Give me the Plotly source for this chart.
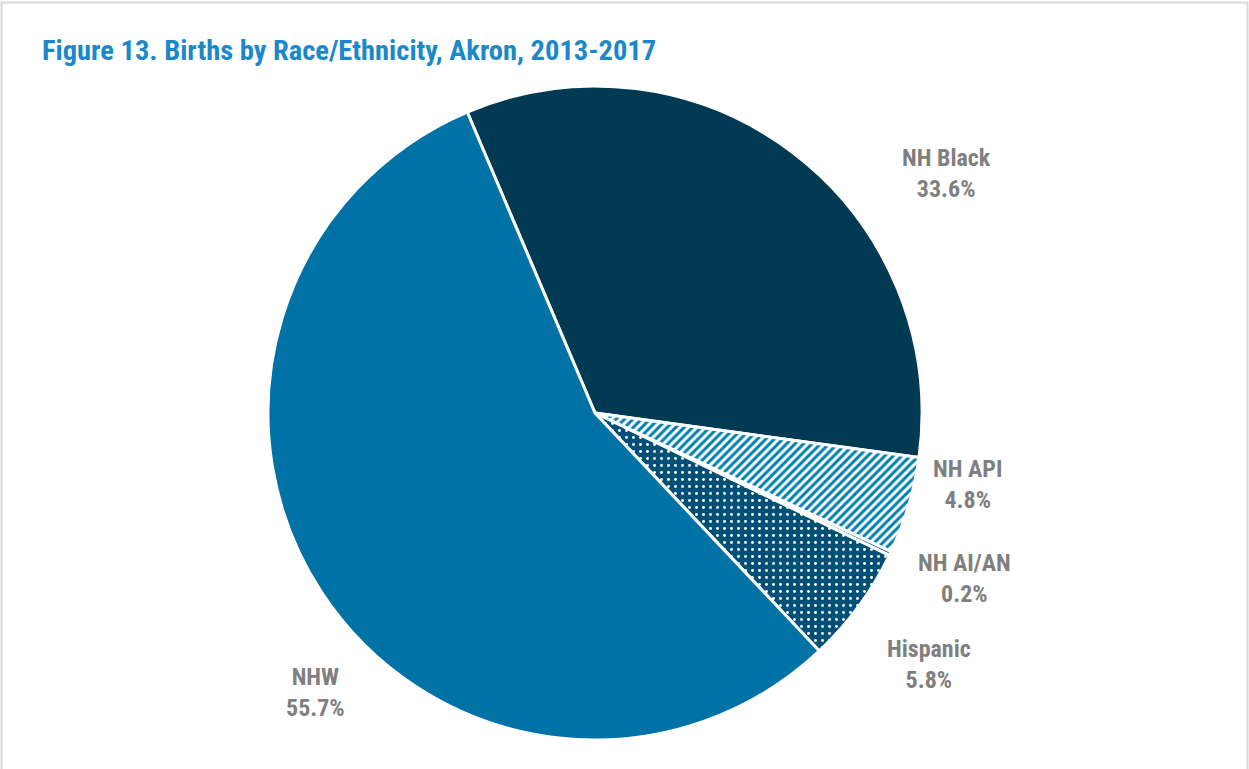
import plotly.graph_objects as go

categories = ["NH Black", "NH API", "NH AI/AN", "Hispanic", "NHW"]
shares = [33.6, 4.8, 0.2, 5.8, 55.7]

colors = ["#023a54", "#ffffff", "#0a6d99", "#004f76", "#0072a6"]
pattern_shapes = ["", "/", "", ".", ""]
pattern_fg = ["#023a54", "#0080b2", "#0a6d99", "#ffffff", "#0072a6"]
pattern_bg = ["#023a54", "#ffffff", "#0a6d99", "#004f76", "#0072a6"]

# label centres in pixels (x, y from top)
label_pos = [(946, 173), (967, 484), (964, 578), (929, 664), (315, 692)]

W, H = 1249, 769
cx, cy, R = 595, 413, 327

fig = go.Figure()
fig.add_trace(go.Pie(
    labels=categories,
    values=shares,
    sort=False,
    direction="clockwise",
    rotation=-23,
    textinfo="none",
    hoverinfo="label+percent",
    marker=dict(
        colors=colors,
        line=dict(color="#ffffff", width=3),
        pattern=dict(shape=pattern_shapes, fgcolor=pattern_fg, bgcolor=pattern_bg,
                     size=[6, 6, 6, 7, 6], solidity=[0.5, 0.5, 0.5, 0.14, 0.5],
                     fillmode="replace"),
    ),
    domain=dict(x=[(cx - R) / W, (cx + R) / W], y=[1 - (cy + R) / H, 1 - (cy - R) / H]),
    showlegend=False,
))

font_lbl = "Liberation Sans Narrow, Arial Narrow, Roboto Condensed, sans-serif"
annotations = []
for cat, v, (px, py) in zip(categories, shares, label_pos):
    annotations.append(dict(
        x=px / W, y=1 - py / H, xref="paper", yref="paper",
        text=f"<b>{cat}<br>{v:.1f}%</b>", showarrow=False, align="center",
        font=dict(family=font_lbl, size=24, color="#7f7f7f"),
        xanchor="center", yanchor="middle",
    ))

annotations.append(dict(
    x=40 / W, y=1 - 51 / H, xref="paper", yref="paper",
    text="<b>Figure 13. Births by Race/Ethnicity, Akron, 2013-2017</b>",
    showarrow=False, xanchor="left", yanchor="middle",
    font=dict(family=font_lbl, size=28.5, color="#1b88c9"),
))

fig.update_layout(
    width=W, height=H,
    margin=dict(l=0, r=0, t=0, b=0),
    paper_bgcolor="#ffffff",
    plot_bgcolor="#ffffff",
    annotations=annotations,
    shapes=[dict(type="rect", xref="paper", yref="paper",
                 x0=1.5 / W, x1=1 - 1.5 / W, y0=-0.05, y1=1 - 2.5 / H,
                 line=dict(color="#d9d9d9", width=2))],
)

fig.write_html("out.html", config={"displayModeBar": False},
               post_script="document.body.style.margin='0';document.body.style.overflow='hidden';")
